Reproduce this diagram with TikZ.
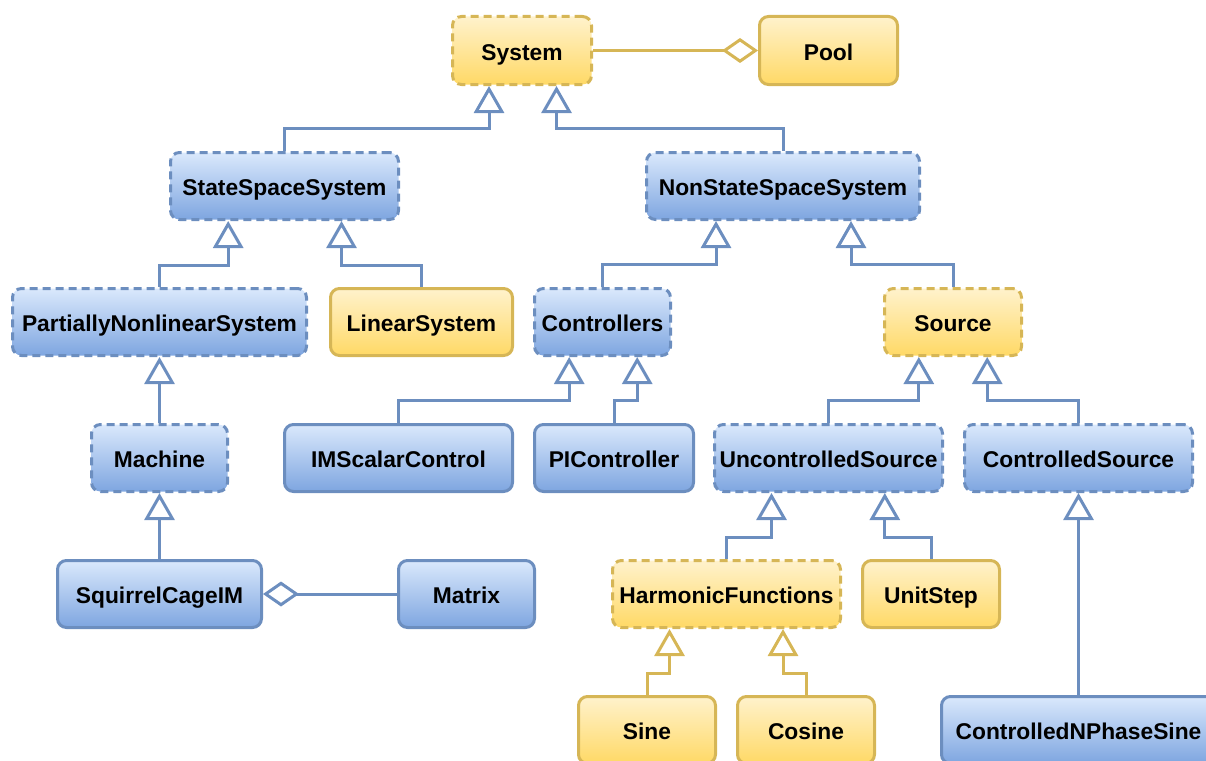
\documentclass[tikz,border=0pt]{standalone}
\usepackage{fontspec}
\setmainfont{Liberation Sans}
\usetikzlibrary{arrows.meta}
\definecolor{bstroke}{HTML}{6C8EBF}
\definecolor{btop}{HTML}{DAE8FC}
\definecolor{bbot}{HTML}{7EA6E0}
\definecolor{ystroke}{HTML}{D6B656}
\definecolor{ytop}{HTML}{FFF2CC}
\definecolor{ybot}{HTML}{FFD966}
\tikzset{
  boxbase/.style={rectangle, rounded corners=9pt, line width=3pt, anchor=north west,
    inner sep=0pt, text=black, text height=19.3pt, text depth=0pt,
    font=\bfseries\fontsize{22.8}{26}\selectfont},
  bluebox/.style={boxbase, draw=bstroke, top color=btop, bottom color=bbot},
  yellowbox/.style={boxbase, draw=ystroke, top color=ytop, bottom color=ybot},
  abstractbox/.style={dash pattern=on 8pt off 5pt},
  sz/.style 2 args={minimum width=#1pt, minimum height=#2pt},
  gen/.style={line width=3pt, draw=#1, -{Triangle[open, length=27pt, width=30pt]}},
  agg/.style={line width=3pt, draw=#1, -{Diamond[open, length=36pt, width=25pt]}},
}
\begin{document}
\begin{tikzpicture}[x=1pt, y=-1pt]
\useasboundingbox (0,0) rectangle (1206,760);
\clip (0,0) rectangle (1206,760);
% level 0
\node[yellowbox, abstractbox, sz={139}{68}] (System) at (451,15) {System};
\node[yellowbox, sz={138}{68}] (Pool) at (758,15) {Pool};
% level 1
\node[bluebox, abstractbox, sz={228}{67}] (SSS) at (169,151) {StateSpaceSystem};
\node[bluebox, abstractbox, sz={273}{67}] (NSSS) at (645,151) {NonStateSpaceSystem};
% level 2
\node[bluebox, abstractbox, sz={294}{67}] (PNS) at (11,287) {PartiallyNonlinearSystem};
\node[yellowbox, sz={182}{67}] (LS) at (329,287) {LinearSystem};
\node[bluebox, abstractbox, sz={136}{67}] (Ctrl) at (533,287) {Controllers};
\node[yellowbox, abstractbox, sz={137}{67}] (Src) at (883,287) {Source};
% level 3
\node[bluebox, abstractbox, sz={136}{67}] (Mach) at (90,423) {Machine};
\node[bluebox, sz={228}{67}] (IMSC) at (283,423) {IMScalarControl};
\node[bluebox, sz={159}{67}] (PIC) at (533,423) {PIController};
\node[bluebox, abstractbox, sz={228}{67}] (US) at (713,423) {UncontrolledSource};
\node[bluebox, abstractbox, sz={228}{67}] (CS) at (963,423) {ControlledSource};
% level 4
\node[bluebox, sz={204}{67}] (SCIM) at (56,559) {SquirrelCageIM};
\node[bluebox, sz={136}{67}] (Mat) at (397,559) {Matrix};
\node[yellowbox, abstractbox, sz={228}{67}] (HF) at (611,559) {HarmonicFunctions};
\node[yellowbox, sz={137}{67}] (Step) at (861,559) {UnitStep};
% level 5
\node[yellowbox, sz={137}{67}] (Sine) at (577,695) {Sine};
\node[yellowbox, sz={137}{67}] (Cos) at (736,695) {Cosine};
\node[bluebox, sz={274}{67}] (CNPS) at (940,695) {ControlledNPhaseSine};
% aggregations
\draw[agg=ystroke] (System) -- (Pool);
\draw[agg=bstroke] (Mat) -- (SCIM);
% generalizations
\draw[gen=bstroke] (SSS.north) -- ++(0,-23) -| ([xshift=-33pt]System.south);
\draw[gen=bstroke] (NSSS.north) -- ++(0,-23) -| ([xshift=34.5pt]System.south);
\draw[gen=bstroke] (PNS.north) -- ++(0,-22) -| ([xshift=-56.3pt]SSS.south);
\draw[gen=bstroke] (LS.north) -- ++(0,-22) -| ([xshift=57pt]SSS.south);
\draw[gen=bstroke] (Ctrl.north) -- ++(0,-23) -| ([xshift=-67pt]NSSS.south);
\draw[gen=bstroke] (Src.north) -- ++(0,-23) -| ([xshift=68pt]NSSS.south);
\draw[gen=bstroke] (Mach) -- (PNS);
\draw[gen=bstroke] (IMSC.north) -- ++(0,-23) -| ([xshift=-33.3pt]Ctrl.south);
\draw[gen=bstroke] ([xshift=0.5pt]PIC.north) -- ++(0,-23) -| ([xshift=34.7pt]Ctrl.south);
\draw[gen=bstroke] (US.north) -- ++(0,-23) -| ([xshift=-34.2pt]Src.south);
\draw[gen=bstroke] (CS.north) -- ++(0,-23) -| ([xshift=34.2pt]Src.south);
\draw[gen=bstroke] (SCIM) -- (Mach);
\draw[gen=bstroke] (HF.north) -- ++(0,-22) -| ([xshift=-57pt]US.south);
\draw[gen=bstroke] (Step.north) -- ++(0,-22) -| ([xshift=56.3pt]US.south);
\draw[gen=ystroke] (Sine.north) -- ++(0,-22) -| ([xshift=-57pt]HF.south);
\draw[gen=ystroke] (Cos.north) -- ++(0,-22) -| ([xshift=56.5pt]HF.south);
\draw[gen=bstroke] (CNPS) -- (CS);
\end{tikzpicture}
\end{document}
